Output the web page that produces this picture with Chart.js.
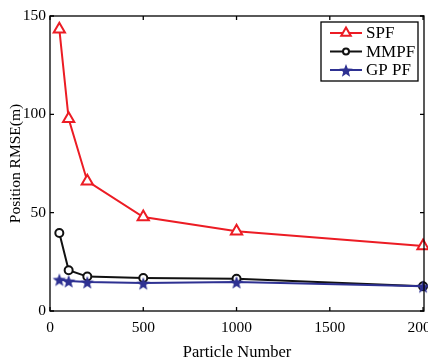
<!DOCTYPE html>
<html lang="en">
<head>
<meta charset="UTF-8">
<title>Position RMSE vs Particle Number</title>
<script src="https://cdn.jsdelivr.net/npm/chart.js"></script>
<style>
    body { margin: 0; background: #fff; }
    canvas { display: block; }
</style>
</head>
<body>
<canvas id="rmseChart" width="428" height="364"></canvas>
<script>
    // values
    const particles = [50, 100, 200, 500, 1000, 2000];
    const spf = [143.3, 97.7, 66.0, 47.8, 40.5, 33.0];
    const mmpf = [39.7, 20.7, 17.5, 16.8, 16.4, 12.6];
    const gppf = [16.1, 15.3, 14.8, 14.2, 14.8, 12.6];
    const xTicks = [0, 500, 1000, 1500, 2000];
    const yTicks = [0, 50, 100, 150];

    const RED = "#ec1c24";
    const BLACK = "#111111";
    const BLUE = "#2e3192";
    const FONT = "'Liberation Serif', 'Times New Roman', serif";

    // filled five point star marker
    function makeStar(color, r) {
        const c = document.createElement("canvas");
        const s = Math.ceil(r * 2 + 2);
        c.width = s; c.height = s;
        const g = c.getContext("2d");
        g.fillStyle = color;
        g.beginPath();
        for (let i = 0; i < 10; i++) {
            const rad = i % 2 === 0 ? r : r * 0.42;
            const a = -Math.PI / 2 + i * Math.PI / 5;
            const px = s / 2 + rad * Math.cos(a);
            const py = s / 2 + 1 + rad * Math.sin(a);
            i === 0 ? g.moveTo(px, py) : g.lineTo(px, py);
        }
        g.closePath();
        g.fill();
        return c;
    }
    const star = makeStar(BLUE, 7);

    const toPts = ys => ys.map((v, i) => ({ x: particles[i], y: v }));

    const datasets = [
        { label: "SPF", data: toPts(spf), borderColor: RED, backgroundColor: "#fff",
          pointStyle: "triangle", pointRadius: 6.5, pointBorderWidth: 2, order: 2 },
        { label: "MMPF", data: toPts(mmpf), borderColor: BLACK, backgroundColor: "#fff",
          pointStyle: "circle", pointRadius: 4, pointBorderWidth: 2, order: 1 },
        { label: "GP PF", data: toPts(gppf), borderColor: BLUE, backgroundColor: BLUE,
          pointStyle: star, pointRadius: 7, pointBorderWidth: 0, order: 0 }
    ];
    datasets.forEach(d => { d.borderWidth = 2; d.tension = 0; d.clip = false; });

    // box round the plot with inward ticks on all four sides
    const framePlugin = {
        id: "frame",
        afterDatasetsDraw(chart) {
            const { ctx, chartArea: a, scales: { x, y } } = chart;
            ctx.save();
            ctx.strokeStyle = "#000";
            ctx.lineWidth = 1.3;
            ctx.strokeRect(a.left, a.top, a.right - a.left, a.bottom - a.top);
            ctx.beginPath();
            xTicks.forEach(v => {
                const px = x.getPixelForValue(v);
                ctx.moveTo(px, a.bottom); ctx.lineTo(px, a.bottom - 4);
                ctx.moveTo(px, a.top); ctx.lineTo(px, a.top + 4);
            });
            yTicks.forEach(v => {
                const py = y.getPixelForValue(v);
                ctx.moveTo(a.left, py); ctx.lineTo(a.left + 4, py);
                ctx.moveTo(a.right, py); ctx.lineTo(a.right - 4, py);
            });
            ctx.stroke();
            ctx.restore();
        }
    };

    // MATLAB style legend inside the top right corner
    const legendPlugin = {
        id: "boxLegend",
        afterDraw(chart) {
            const { ctx } = chart;
            const bx = 321, by = 22, bw = 97, bh = 59;
            ctx.save();
            ctx.fillStyle = "#fff";
            ctx.fillRect(bx, by, bw, bh);
            ctx.strokeStyle = "#000";
            ctx.lineWidth = 1.3;
            ctx.strokeRect(bx, by, bw, bh);
            ctx.font = "17px " + FONT;
            ctx.textBaseline = "middle";
            datasets.forEach((d, i) => {
                const ly = by + 11 + i * 18.5;
                ctx.strokeStyle = d.borderColor;
                ctx.lineWidth = 2;
                ctx.beginPath();
                ctx.moveTo(bx + 9, ly); ctx.lineTo(bx + 41, ly);
                ctx.stroke();
                ctx.fillStyle = d.backgroundColor;
                Chart.helpers.drawPoint(ctx, {
                    pointStyle: d.pointStyle, radius: d.pointStyle === "triangle" ? 5.5 : (d.pointStyle === "circle" ? 3 : 6),
                    rotation: 0, borderWidth: d.pointBorderWidth
                }, bx + 25, ly);
                ctx.fillStyle = "#000";
                ctx.fillText(d.label, bx + 45, ly + 1);
            });
            ctx.restore();
        }
    };

    new Chart(document.getElementById("rmseChart"), {
        type: "line",
        data: { datasets: datasets },
        options: {
            responsive: false,
            animation: false,
            layout: { autoPadding: false, padding: { top: 16, right: 4, left: 0, bottom: 0 } },
            plugins: { legend: { display: false }, tooltip: { enabled: false } },
            scales: {
                x: {
                    type: "linear",
                    min: 0,
                    max: 2005,
                    grid: { display: false, drawTicks: false },
                    border: { display: false },
                    ticks: { color: "#000", font: { family: FONT, size: 15.5 }, padding: 8,
                             includeBounds: false, maxRotation: 0, callback: v => String(v) },
                    afterBuildTicks: s => { s.ticks = xTicks.map(v => ({ value: v })); },
                    afterFit: s => { s.height = 53; s.paddingLeft = 0; s.paddingRight = 0; },
                    title: { display: true, text: "Particle Number", color: "#000",
                             font: { family: FONT, size: 16.5 }, padding: { top: 0, bottom: 1 } }
                },
                y: {
                    min: 0,
                    max: 150,
                    grid: { display: false, drawTicks: false },
                    border: { display: false },
                    ticks: { color: "#000", font: { family: FONT, size: 15.5 }, padding: 4, callback: v => String(v) },
                    afterBuildTicks: s => { s.ticks = yTicks.map(v => ({ value: v })); },
                    afterFit: s => { s.width = 50; s.paddingTop = 0; s.paddingBottom = 0; },
                    title: { display: true, text: "Position RMSE(m)", color: "#000",
                             font: { family: FONT, size: 15.5 }, padding: { top: 7, bottom: 0 } }
                }
            }
        },
        plugins: [framePlugin, legendPlugin]
    });
</script>
</body>
</html>
